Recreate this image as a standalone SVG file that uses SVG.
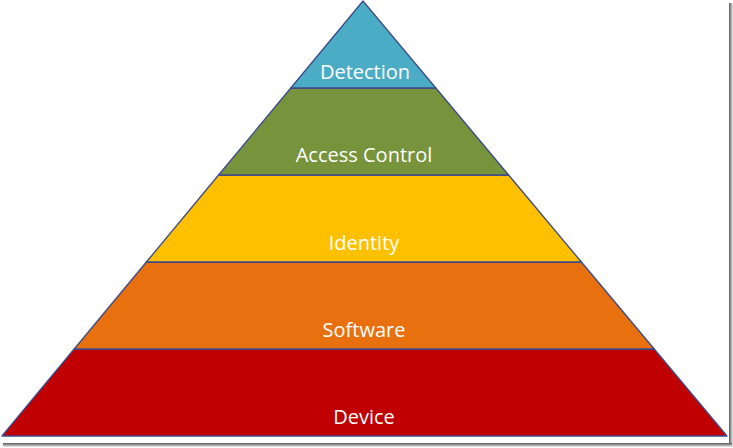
<svg xmlns="http://www.w3.org/2000/svg" width="733" height="448" viewBox="0 0 733 448">
<style>
.band{stroke:#3b4a8a;stroke-width:1.3;stroke-linejoin:round}
.lbl{font-family:"Open Sans","Liberation Sans",sans-serif;font-size:20px;fill:#ffffff;text-anchor:middle}
</style>
<defs>
<linearGradient id="sr" x1="0" y1="0" x2="1" y2="0"><stop offset="0" stop-color="#555"/><stop offset="1" stop-color="#eee"/></linearGradient>
<linearGradient id="sb" x1="0" y1="0" x2="0" y2="1"><stop offset="0" stop-color="#555"/><stop offset="1" stop-color="#eee"/></linearGradient>
</defs>
<rect width="733" height="448" fill="#ffffff"/>
<rect x="729" y="3" width="4" height="444" fill="url(#sr)"/>
<rect x="3" y="443" width="729" height="4" fill="url(#sb)"/>
<g id="device"><polygon class="band" points="74.2,349 654.2,349 727,436 2,436" fill="#c00000"/><text class="lbl" x="364" y="424">Device</text></g>
<g id="software"><polygon class="band" points="146.4,262 581.4,262 654.2,349 74.2,349" fill="#e8700f"/><text class="lbl" x="364" y="337">Software</text></g>
<g id="identity"><polygon class="band" points="218.6,175 508.6,175 581.4,262 146.4,262" fill="#ffc000"/><text class="lbl" x="364" y="250">Identity</text></g>
<g id="access-control"><polygon class="band" points="290.8,88 435.8,88 508.6,175 218.6,175" fill="#77933c"/><text class="lbl" x="364" y="162">Access Control</text></g>
<g id="detection"><polygon class="band" points="363,1 435.8,88 290.8,88" fill="#4bacc6"/><text class="lbl" x="365" y="79">Detection</text></g>
<g id="connectors"></g>
</svg>
